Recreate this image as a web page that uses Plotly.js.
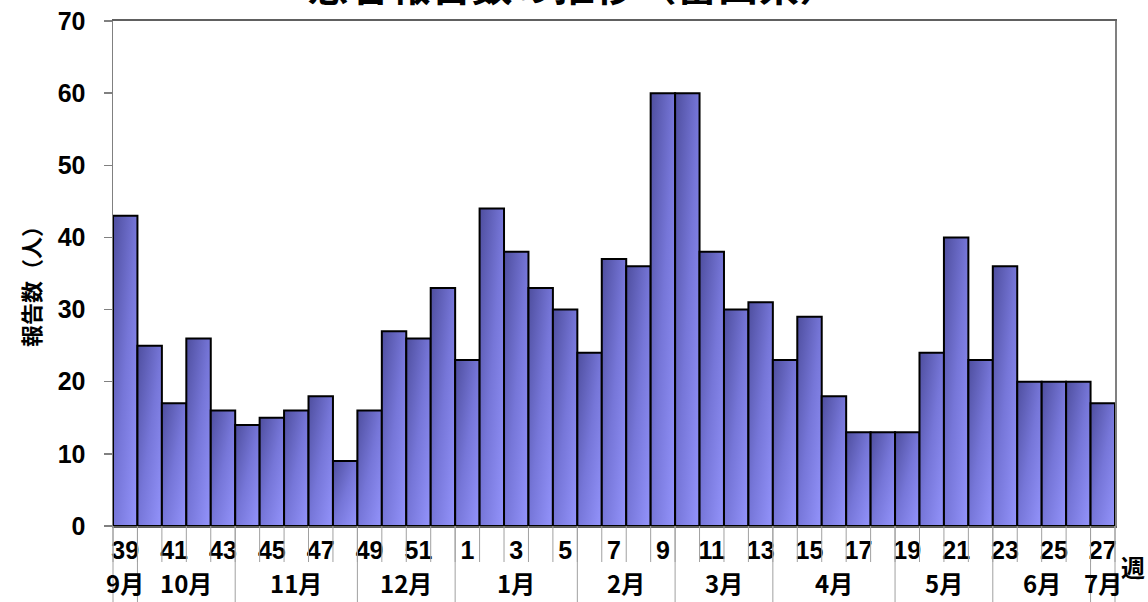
<!DOCTYPE html>
<html>
<head>
<meta charset="utf-8">
<script src="https://cdn.plot.ly/plotly-3.0.1.min.js"></script>
<style>
  html, body { margin: 0; padding: 0; background: #ffffff; }
  #chart { width: 1148px; height: 602px; }
</style>
</head>
<body>
<div id="chart"></div>
<script>
// ---- data ----
const weeks = ["39","40","41","42","43","44","45","46","47","48","49","50","51","52",
               "1","2","3","4","5","6","7","8","9","10","11","12","13","14","15","16",
               "17","18","19","20","21","22","23","24","25","26","27"];
const reports = [43,25,17,26,16,14,15,16,18,9,16,27,26,33,
                 23,44,38,33,30,24,37,36,60,60,38,30,31,23,29,18,
                 13,13,13,24,40,23,36,20,20,20,17];
const tickWeeks = ["39","41","43","45","47","49","51","1","3","5","7","9","11","13",
                   "15","17","19","21","23","25","27"];
const monthLabels = ["9月","10月","11月","12月","1月","2月","3月","4月","5月","6月","7月"];
const monthWeekCounts = [1,4,5,4,5,4,4,5,4,4,1];
const titleText = "患者報告数の推移（富山県）";
const yTitleText = "報告数（人）";
const xUnitText = "週";

// ---- layout helpers ----
const W = 1148, H = 602;
const M = {l: 113, r: 33, t: 21, b: 76};
const plotH = H - M.t - M.b;
const n = weeks.length;
const pxY = (py) => (H - M.b - py) / plotH;       // page pixel y -> paper y
const pxX = (px) => (px - M.l) / (W - M.l - M.r); // page pixel x -> paper x

const numFont = "Liberation Sans Narrow, Liberation Sans, Arial, sans-serif";
const jpFont = "Liberation Sans Narrow, Noto Sans CJK JP, sans-serif";

const shapes = [];
// short separators at every week boundary
for (let i = 0; i <= n; i++) {
  shapes.push({type: "line", xref: "paper", yref: "paper",
    x0: i / n, x1: i / n, y0: 0, y1: pxY(562),
    line: {color: "#a0a0a0", width: 1}});
}
// long separators at month boundaries + month labels
const annotations = [];
let start = 0;
const bounds = [0];
monthWeekCounts.forEach((c, k) => {
  const mid = (start + c / 2) / n;
  annotations.push({xref: "paper", yref: "paper", x: mid, y: pxY(582),
    text: monthLabels[k], showarrow: false, xanchor: "center", yanchor: "middle",
    font: {family: jpFont, size: 24, color: "#000", weight: "bold"}});
  start += c;
  bounds.push(start);
});
bounds.forEach(b => {
  shapes.push({type: "line", xref: "paper", yref: "paper",
    x0: b / n, x1: b / n, y0: 0, y1: pxY(602),
    line: {color: "#a0a0a0", width: 1}});
});
annotations.push({xref: "paper", yref: "paper", x: pxX(1133), y: pxY(566),
  text: xUnitText, showarrow: false, xanchor: "center", yanchor: "middle",
  font: {family: "Noto Sans CJK JP, sans-serif", size: 24, color: "#000", weight: "bold"}});
annotations.push({xref: "paper", yref: "paper", x: pxX(30), y: pxY(281),
  text: yTitleText, showarrow: false, textangle: -90, xanchor: "center", yanchor: "middle",
  font: {family: "Noto Sans CJK JP, sans-serif", size: 22, color: "#000", weight: "bold"}});

const trace = {
  type: "bar",
  x: weeks,
  y: reports,
  marker: {color: "#7474d4", line: {color: "#000000", width: 2}},
  hoverinfo: "x+y"
};

const layout = {
  width: W, height: H,
  margin: M,
  paper_bgcolor: "#ffffff",
  plot_bgcolor: "#ffffff",
  showlegend: false,
  bargap: 0,
  title: {
    text: titleText,
    xref: "container", x: 0.5, xanchor: "center",
    yref: "container", y: 1, yanchor: "top",
    pad: {t: -28},
    font: {family: "Noto Sans CJK JP, sans-serif", size: 41, color: "#000", weight: "bold"}
  },
  xaxis: {
    type: "category",
    range: [-0.5, n - 0.5],
    tickmode: "array",
    tickvals: tickWeeks,
    ticktext: tickWeeks,
    ticks: "",
    ticklabelstandoff: 1,
    tickangle: 0,
    tickfont: {family: numFont, size: 25, color: "#000", weight: "bold"},
    showgrid: false,
    zeroline: false,
    showline: true,
    linecolor: "#606060",
    linewidth: 2,
    mirror: true,
    fixedrange: true
  },
  yaxis: {
    range: [0, 70],
    tickmode: "linear",
    tick0: 0, dtick: 10,
    ticks: "outside",
    ticklen: 8,
    tickwidth: 1.5,
    tickcolor: "#808080",
    ticklabelstandoff: 13,
    tickfont: {family: "Liberation Sans, Arial, sans-serif", size: 25, color: "#000", weight: "bold"},
    showgrid: false,
    zeroline: false,
    showline: true,
    linecolor: "#808080",
    linewidth: 1.5,
    mirror: true,
    fixedrange: true
  },
  shapes: shapes,
  annotations: annotations
};

Plotly.newPlot("chart", [trace], layout, {displayModeBar: false, staticPlot: true}).then(gd => {
  // diagonal gradient fill like the original bars
  const svg = gd.querySelector("svg.main-svg");
  const ns = "http://www.w3.org/2000/svg";
  let defs = svg.querySelector("defs");
  if (!defs) { defs = document.createElementNS(ns, "defs"); svg.insertBefore(defs, svg.firstChild); }
  const grad = document.createElementNS(ns, "linearGradient");
  grad.setAttribute("id", "barGrad");
  grad.setAttribute("x1", "0"); grad.setAttribute("y1", "0");
  grad.setAttribute("x2", "1"); grad.setAttribute("y2", "1");
  [["0%", "#4e4e9e"], ["50%", "#7676d8"], ["100%", "#9494fc"]].forEach(([o, c]) => {
    const s = document.createElementNS(ns, "stop");
    s.setAttribute("offset", o); s.setAttribute("stop-color", c);
    grad.appendChild(s);
  });
  defs.appendChild(grad);
  gd.querySelectorAll(".bars .point path").forEach(p => { p.style.fill = "url(#barGrad)"; });
});
</script>
</body>
</html>
